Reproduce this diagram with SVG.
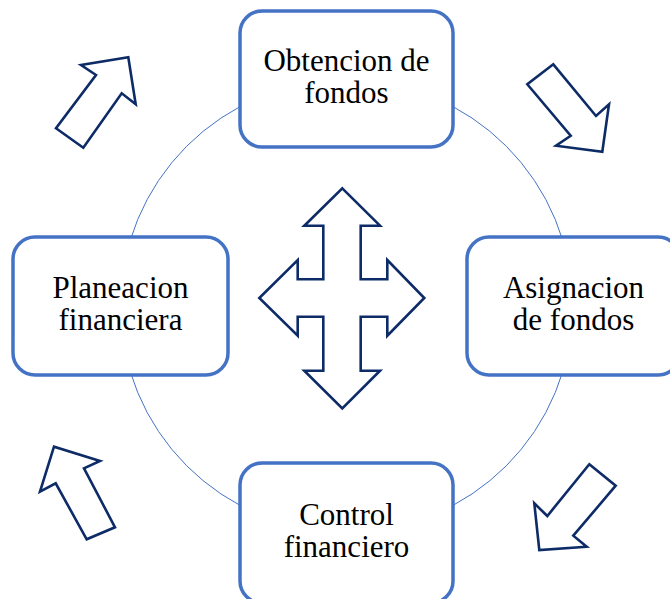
<svg xmlns="http://www.w3.org/2000/svg" width="670" height="599" viewBox="0 0 670 599">
<style>
.box{fill:#fff;stroke:#4472C4;stroke-width:3.5}
.ring{fill:none;stroke:#4472C4;stroke-width:1}
.arr{fill:#fff;stroke:#0D2B66;stroke-width:2.6;stroke-linejoin:miter}
</style>
<rect width="670" height="599" fill="#fff"/>
<g id="connectors">
<circle class="ring" cx="346.5" cy="306" r="226"/>
<polygon class="arr" points="56,128.3 83.3,147.7 121.7,93.3 135.7,104.3 128.3,57.3 81,65 96,75"/>
<polygon class="arr" points="553.3,64.3 527.3,84.3 570.7,135.7 556,145.7 602.3,151.7 609,104.3 596,116"/>
<polygon class="arr" points="54,446.7 40,491.7 55.7,483.3 86.7,539.3 115,527.3 84,468.3 100,461"/>
<polygon class="arr" points="589.3,464.3 615.7,485.7 573.3,535.7 586.7,546.7 539.3,550 534.3,503.3 547.3,516"/>
<polygon class="arr" points="342.3,188.3 380,225.7 360.7,225.7 360.7,279.3 387.3,279.3 387.3,260 424.3,298 387.3,335.7 387.3,316.7 360.7,316.7 360.7,370.7 380,370.7 342.3,408.3 304.3,370.7 323.3,370.7 323.3,316.7 297.7,316.7 297.7,335.7 259.3,298 297.7,260 297.7,279.3 323.3,279.3 323.3,225.7 304.3,225.7"/>
</g>
<g id="node-obtencion" font-family="Liberation Serif">
<rect class="box" x="240" y="11" width="213" height="136" rx="22"/>
<text x="346.5" y="71" font-size="31" text-anchor="middle" style="font-family:'Liberation Serif',serif !important">Obtencion de</text>
<text x="346.5" y="103" font-size="31" text-anchor="middle" style="font-family:'Liberation Serif',serif !important">fondos</text>
</g>
<g id="node-planeacion" font-family="Liberation Serif">
<rect class="box" x="13" y="237" width="215" height="138" rx="22"/>
<text x="120.5" y="298" font-size="31" text-anchor="middle" style="font-family:'Liberation Serif',serif !important">Planeacion</text>
<text x="120.5" y="330" font-size="31" text-anchor="middle" style="font-family:'Liberation Serif',serif !important">financiera</text>
</g>
<g id="node-asignacion" font-family="Liberation Serif">
<rect class="box" x="467" y="237" width="213" height="138" rx="22"/>
<text x="573.5" y="298" font-size="31" text-anchor="middle" style="font-family:'Liberation Serif',serif !important">Asignacion</text>
<text x="573.5" y="330" font-size="31" text-anchor="middle" style="font-family:'Liberation Serif',serif !important">de fondos</text>
</g>
<g id="node-control" font-family="Liberation Serif">
<rect class="box" x="240" y="463" width="213" height="140" rx="22"/>
<text x="346.5" y="525" font-size="31" text-anchor="middle" style="font-family:'Liberation Serif',serif !important">Control</text>
<text x="346.5" y="557" font-size="31" text-anchor="middle" style="font-family:'Liberation Serif',serif !important">financiero</text>
</g>
</svg>
